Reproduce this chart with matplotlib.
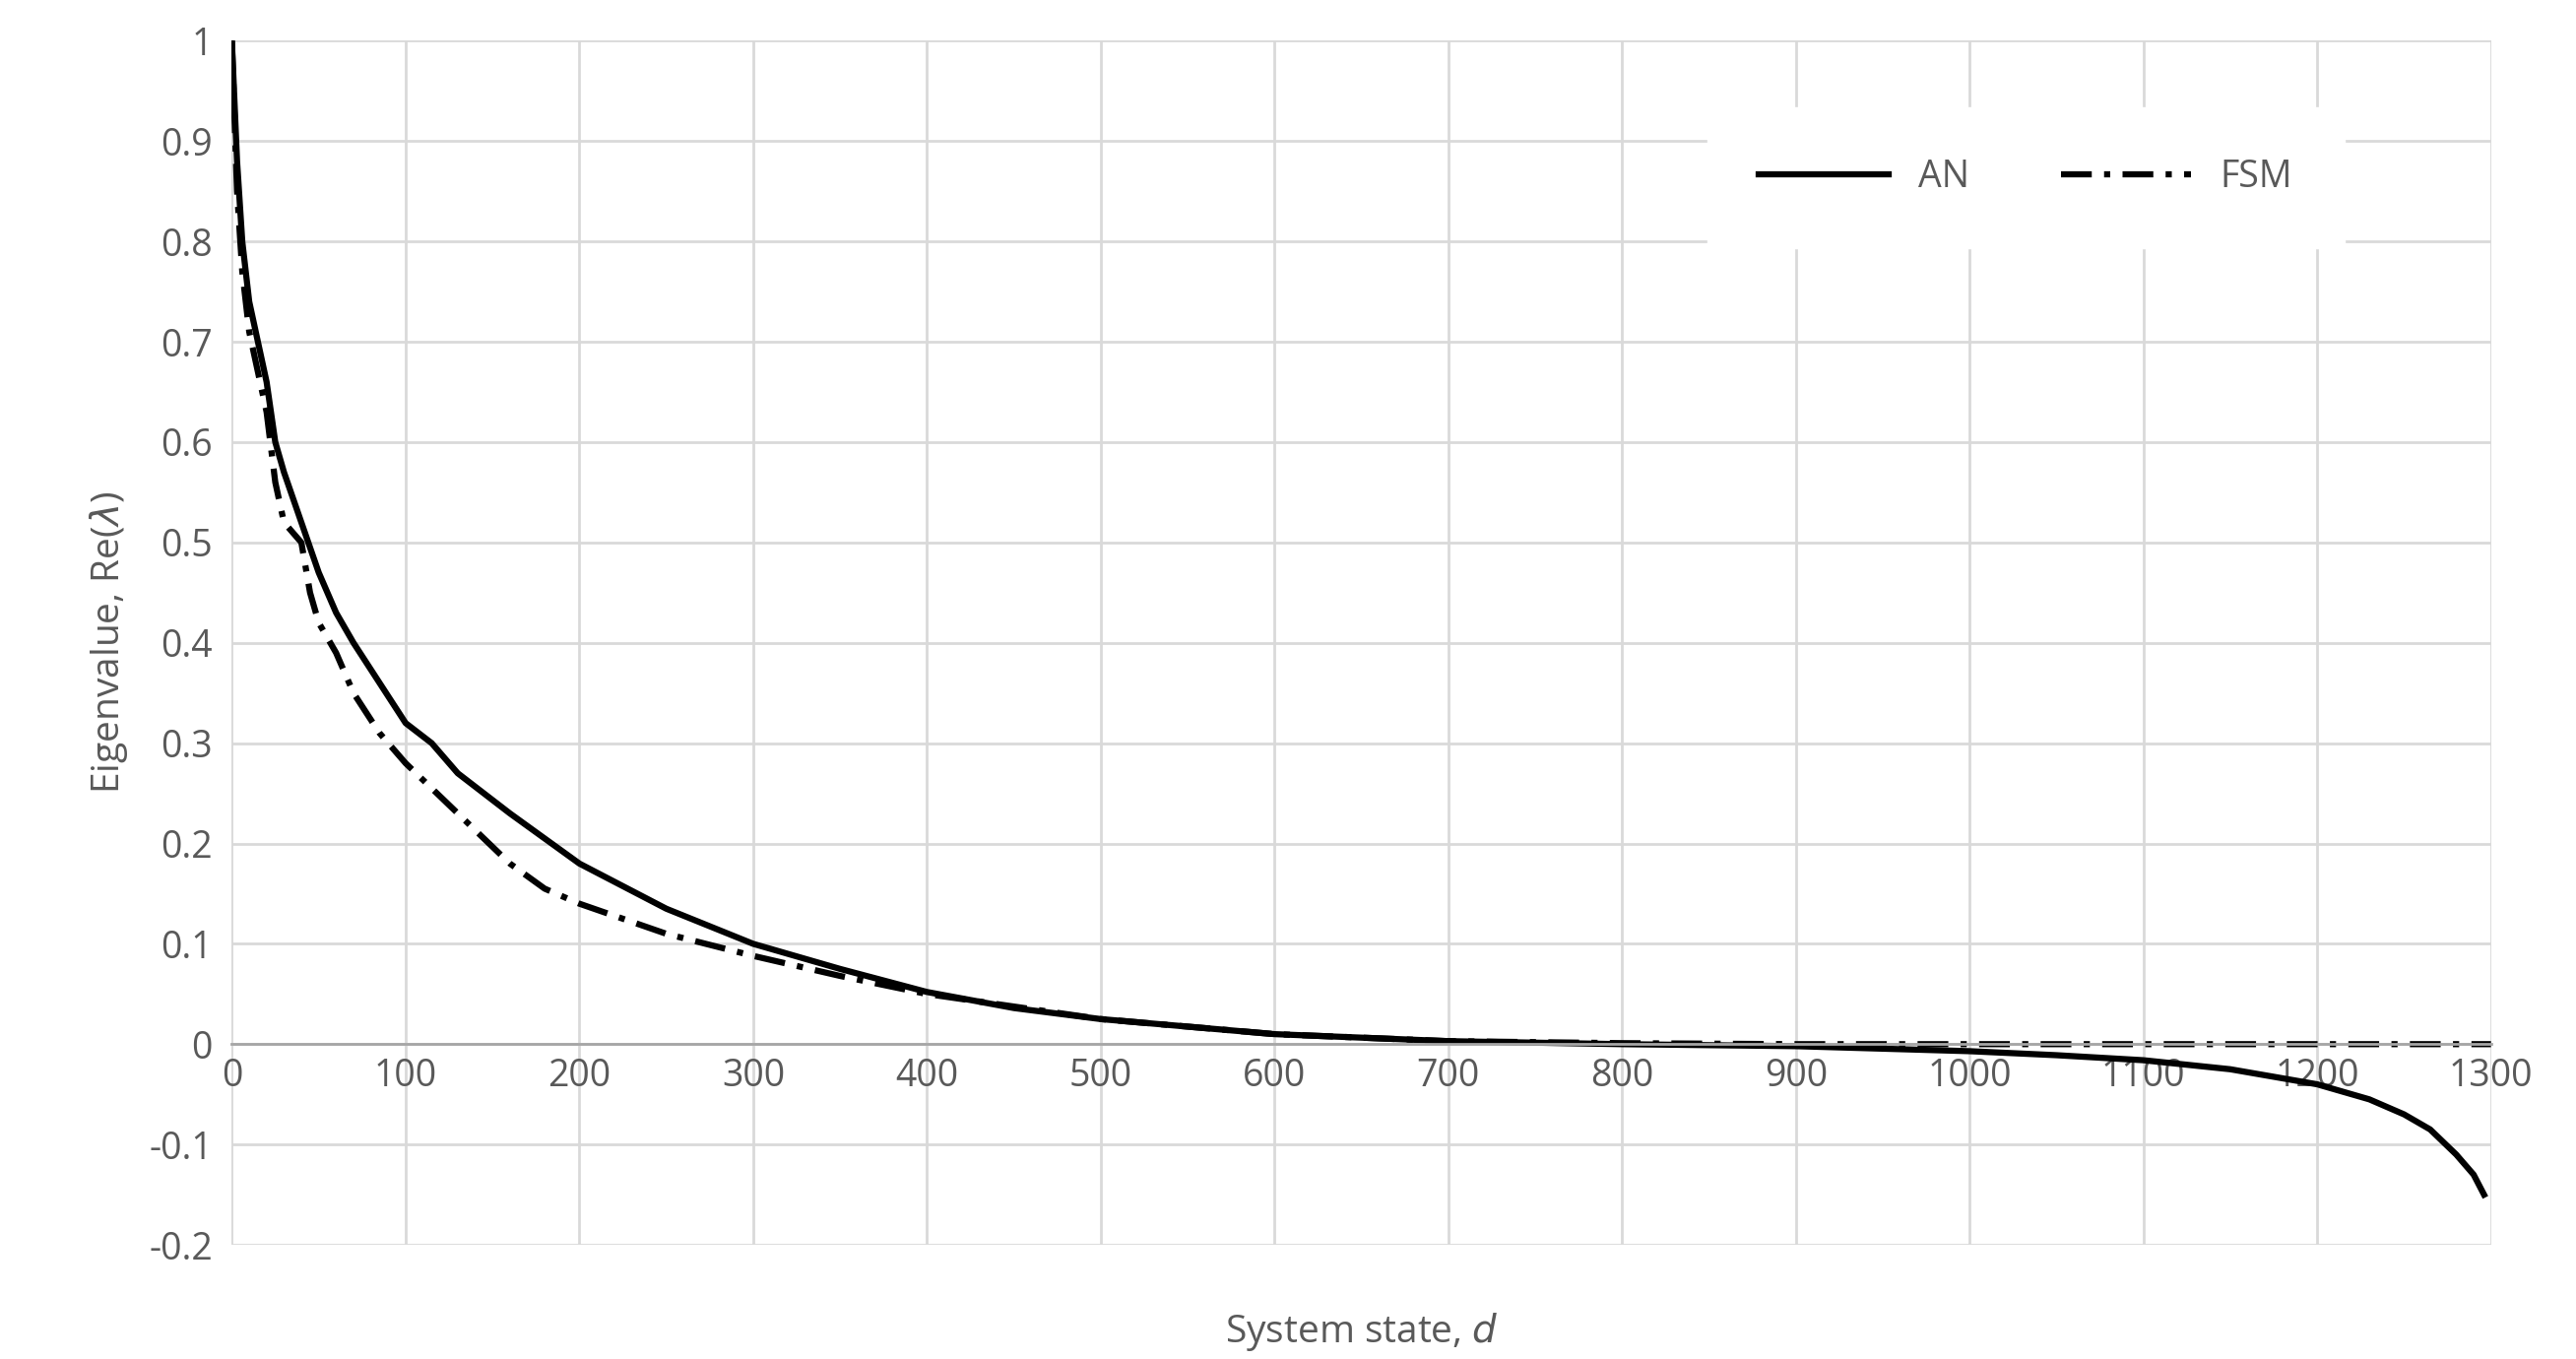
import matplotlib.pyplot as plt

# data
an_x = [0, 3, 6, 10, 15, 20, 25, 30, 40, 50, 60, 70, 85, 100, 115, 130, 160, 200, 250, 300, 350, 400, 450, 500,
        600, 700, 800, 900, 1000, 1050, 1100, 1150, 1200, 1230, 1250, 1265, 1280, 1290, 1296]
an_y = [1.0, 0.88, 0.8, 0.74, 0.7, 0.66, 0.6, 0.57, 0.52, 0.47, 0.43, 0.4, 0.36, 0.32, 0.3, 0.27, 0.23, 0.18,
        0.135, 0.1, 0.075, 0.052, 0.036, 0.025, 0.01, 0.003, 0.0, -0.002, -0.007, -0.011, -0.016, -0.025,
        -0.04, -0.055, -0.07, -0.085, -0.11, -0.13, -0.15]
fsm_x = [0, 3, 6, 10, 15, 20, 25, 30, 40, 45, 50, 60, 70, 85, 100, 130, 160, 180, 200, 250, 300, 350, 400, 500,
         600, 700, 800, 900, 1000, 1300]
fsm_y = [1.0, 0.85, 0.77, 0.71, 0.67, 0.63, 0.56, 0.52, 0.5, 0.45, 0.42, 0.39, 0.35, 0.31, 0.28, 0.23, 0.18,
         0.155, 0.14, 0.11, 0.088, 0.068, 0.05, 0.025, 0.01, 0.003, 0.001, 0.0, 0.0, 0.0]

plt.rcParams['font.family'] = ['Open Sans', 'DejaVu Sans']
gray = '#595959'

fig = plt.figure(figsize=(26.16, 13.8), dpi=100)
ax = fig.add_axes([0.09, 0.084, 0.877, 0.886])

ax.plot(an_x, an_y, color='black', lw=4.5, label='AN')
ax.plot(fsm_x, fsm_y, color='black', lw=4.5, linestyle=(0, (5, 2, 1, 2)), label='FSM')

ax.set_xlim(0, 1300)
ax.set_ylim(-0.2, 1.0)
ax.set_xticks(range(0, 1301, 100))
ax.set_yticks([i / 10 for i in range(-2, 11)])
ax.set_yticklabels(['-0.2', '-0.1', '0', '0.1', '0.2', '0.3', '0.4', '0.5', '0.6', '0.7', '0.8', '0.9', '1'])
ax.grid(color='#d9d9d9', lw=2)
ax.set_axisbelow(True)
for s in ['top', 'right', 'left']:
    ax.spines[s].set_visible(False)
ax.spines['bottom'].set_position(('data', 0))
ax.spines['bottom'].set_color('#a6a6a6')
ax.spines['bottom'].set_linewidth(2)
ax.tick_params(length=0, labelsize=27, labelcolor=gray, pad=10)
ax.tick_params(axis='y', pad=14)

ax.set_xlabel('System state, $d$', fontsize=28, color=gray, labelpad=40)
ax.set_ylabel('Eigenvalue, Re($\\lambda$)', fontsize=28, color=gray, labelpad=14)
ax.xaxis.set_label_coords(0.5, -0.055)

leg = ax.legend(loc='upper right', bbox_to_anchor=(0.935, 0.945), ncol=2, fontsize=27, frameon=True,
                fancybox=False, edgecolor='white', framealpha=1, handlelength=3.5, columnspacing=2.5,
                borderpad=1.4, borderaxespad=0)
for t in leg.get_texts():
    t.set_color(gray)

fig.savefig('out.png', dpi=100, facecolor='white')
